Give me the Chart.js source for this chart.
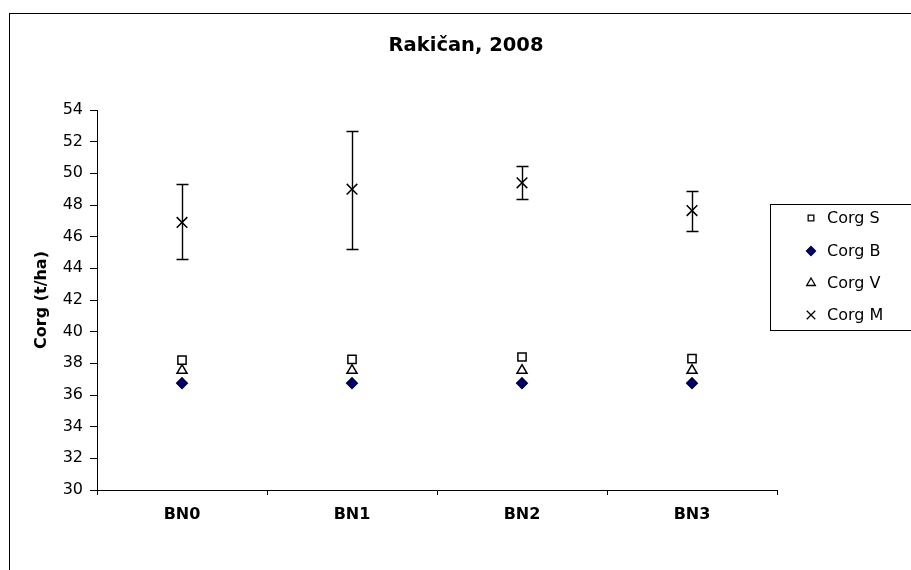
<!DOCTYPE html>
<html>
<head>
<meta charset="utf-8">
<script src="https://cdn.jsdelivr.net/npm/chart.js@4/dist/chart.umd.min.js"></script>
<style>
  html, body { margin: 0; padding: 0; background: #fff; }
  #wrap { position: relative; width: 911px; height: 570px; overflow: hidden; }
  #frame { position: absolute; left: 9px; top: 13px; width: 1000px; height: 700px; border: 1px solid #000; }
  #chart { position: absolute; left: 0; top: 0; }
</style>
</head>
<body>
<div id="wrap">
  <div id="frame"></div>
  <canvas id="chart" width="911" height="570"></canvas>
</div>
<script>
const categories = ['BN0', 'BN1', 'BN2', 'BN3']
const corgS = [38.2, 38.25, 38.4, 38.3]
const corgB = [36.75, 36.75, 36.75, 36.75]
const corgV = [37.55, 37.55, 37.55, 37.55]
const corgM = [46.9, 49.0, 49.4, 47.65]
const corgMLow = [44.6, 45.2, 48.35, 46.35]
const corgMHigh = [49.3, 52.7, 50.45, 48.9]
const yMin = 30
const yMax = 54
const yStep = 2

const titleText = 'Rakičan, 2008'
const yTitle = 'Corg (t/ha)'
const fontFamily = '"DejaVu Sans", Arial, sans-serif'

// error bars for Corg M, drawn under the markers
const errorBars = {
  id: 'errorBars',
  beforeDatasetsDraw (chart) {
    const ctx = chart.ctx
    const y = chart.scales.y
    const meta = chart.getDatasetMeta(3)
    ctx.save()
    ctx.strokeStyle = '#000'
    ctx.lineWidth = 1.4
    meta.data.forEach((pt, i) => {
      const x = Math.round(pt.x) + 0.5
      const top = Math.round(y.getPixelForValue(corgMHigh[i])) + 0.5
      const bot = Math.round(y.getPixelForValue(corgMLow[i])) + 0.5
      ctx.beginPath()
      ctx.moveTo(x, top)
      ctx.lineTo(x, bot)
      ctx.moveTo(x - 6, top)
      ctx.lineTo(x + 6, top)
      ctx.moveTo(x - 6, bot)
      ctx.lineTo(x + 6, bot)
      ctx.stroke()
    })
    ctx.restore()
  }
}

// title and boxed legend in Excel-like positions
const decorations = {
  id: 'decorations',
  afterDraw (chart) {
    const ctx = chart.ctx
    ctx.save()
    ctx.fillStyle = '#000'
    ctx.font = 'bold 19.5px ' + fontFamily
    ctx.textAlign = 'center'
    ctx.textBaseline = 'alphabetic'
    ctx.fillText(titleText, 466, 51)

    ctx.strokeStyle = '#000'
    ctx.lineWidth = 1
    ctx.strokeRect(770.5, 204.5, 200, 126)

    const rows = [218, 251, 283, 315]
    const sizes = [4, 4.5, 5, 6]
    ctx.font = '16px ' + fontFamily
    ctx.textAlign = 'left'
    ctx.textBaseline = 'middle'
    chart.data.datasets.forEach((ds, i) => {
      const opts = {
        pointStyle: ds.pointStyle,
        radius: sizes[i],
        rotation: 0,
        borderWidth: 1.3
      }
      ctx.fillStyle = ds.pointBackgroundColor
      ctx.strokeStyle = ds.pointBorderColor
      ctx.lineWidth = 1.3
      Chart.helpers.drawPoint(ctx, opts, 811, rows[i])
      ctx.fillStyle = '#000'
      ctx.fillText(ds.label, 827, rows[i] + 1)
    })
    ctx.restore()
  }
}

function series (label, data, style, radius, fill, stroke) {
  return {
    label,
    data,
    showLine: false,
    pointStyle: style,
    pointRadius: radius,
    pointHoverRadius: radius,
    pointBackgroundColor: fill,
    pointBorderColor: stroke,
    pointBorderWidth: 1.5
  }
}

const chart = new Chart(document.getElementById('chart'), {
  type: 'line',
  data: {
    labels: categories,
    datasets: [
      series('Corg S', corgS, 'rect', 5.8, '#fff', '#000'),
      series('Corg B', corgB, 'rectRot', 5.2, '#000080', '#000030'),
      series('Corg V', corgV, 'triangle', 5.8, '#fff', '#000'),
      series('Corg M', corgM, 'crossRot', 7.5, '#000', '#000')
    ]
  },
  options: {
    responsive: false,
    animation: false,
    devicePixelRatio: 1,
    layout: {
      padding: { left: 0, top: 110, right: 134, bottom: 0 }
    },
    plugins: {
      legend: { display: false },
      title: { display: false },
      tooltip: { enabled: false }
    },
    scales: {
      x: {
        type: 'category',
        offset: true,
        grid: {
          offset: true,
          drawOnChartArea: false,
          color: '#000',
          tickLength: 5
        },
        border: { color: '#000', width: 1 },
        ticks: {
          color: '#000',
          font: { family: fontFamily, size: 16, weight: 'bold' },
          padding: 10,
          maxRotation: 0
        },
        afterFit (scale) { scale.height = 80 }
      },
      y: {
        min: yMin,
        max: yMax,
        grid: {
          drawOnChartArea: false,
          color: '#000',
          tickLength: 7
        },
        border: { color: '#000', width: 1 },
        ticks: {
          stepSize: yStep,
          color: '#000',
          font: { family: fontFamily, size: 16 },
          padding: 7
        },
        title: {
          display: true,
          text: yTitle,
          color: '#000',
          font: { family: fontFamily, size: 16, weight: 'bold' },
          padding: { top: 32, bottom: 0 }
        },
        afterFit (scale) { scale.width = 97 }
      }
    }
  },
  plugins: [errorBars, decorations]
})
</script>
</body>
</html>
